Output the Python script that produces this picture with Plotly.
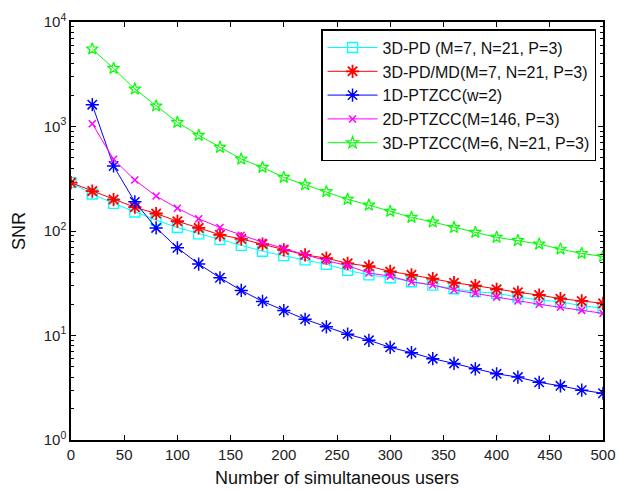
import plotly.graph_objects as go

x_full = list(range(0, 501, 20))
x_from20 = list(range(20, 501, 20))

pd_3d = [290, 226, 184, 152, 127, 108, 94, 83, 73, 64, 58, 53, 48, 42, 38, 35.7, 32.7, 30.4, 28, 26.3, 25.3, 23.3, 22, 20.9, 19.3, 18.2]
pdmd_3d = [290, 241, 200, 169, 147, 124, 107, 92, 84, 75, 66, 59, 55, 49, 46, 41, 38, 35, 32, 30, 27.7, 25.9, 24.4, 22.5, 21.4, 20.3]
ptzcc_1d = [1617, 419, 190, 107, 69, 48.3, 35.7, 27, 21.2, 17.3, 14.3, 12.1, 10.3, 9.0, 7.7, 6.85, 6.0, 5.4, 4.8, 4.3, 4.0, 3.56, 3.3, 3.0, 2.8]
ptzcc_2d = [1064, 485, 307, 216, 165, 131, 108, 91, 78, 68, 59, 52, 46.6, 39.6, 37, 32.5, 30.4, 27.2, 25.3, 23.3, 21.4, 19.9, 18.6, 17.4, 16.3]
ptzcc_3d = [5520, 3600, 2285, 1570, 1096, 824, 632, 488, 406, 326, 277, 238, 201, 177, 154, 135, 122, 108, 97, 87, 81, 75, 67, 61, 57]

names = ["3D-PD (M=7, N=21, P=3)", "3D-PD/MD(M=7, N=21, P=3)", "1D-PTZCC(w=2)",
         "2D-PTZCC(M=146, P=3)", "3D-PTZCC(M=6, N=21, P=3)"]

x_ticks = list(range(0, 501, 50))
y_tickvals = [1, 10, 100, 1000, 10000]
y_ticktext = ["10<sup>0</sup>", "10<sup>1</sup>", "10<sup>2</sup>", "10<sup>3</sup>", "10<sup>4</sup>"]
y_minor = [m * 10 ** d for d in range(4) for m in range(2, 10)]

FONT = "Liberation Sans, Arial"

fig = go.Figure()
series = [
    (x_full, pd_3d, "#00FFFF", "square-open", 10, 1.3),
    (x_full, pdmd_3d, "#FF0000", "asterisk-open", 11, 1.8),
    (x_from20, ptzcc_1d, "#0000FF", "asterisk-open", 11, 1.5),
    (x_from20, ptzcc_2d, "#FF00FF", "x-thin-open", 7, 1.5),
    (x_from20, ptzcc_3d, "#00FF00", "star-open", 9, 1.2),
]
for (xs, ys, col, sym, sz, lw), nm in zip(series, names):
    fig.add_trace(go.Scatter(
        x=xs, y=ys, name=nm, mode="lines+markers",
        line=dict(color=col, width=1),
        marker=dict(symbol=sym, size=sz, color=col, line=dict(color=col, width=lw)),
    ))

axis_common = dict(showline=True, linecolor="black", linewidth=1.5, mirror="allticks",
                   ticks="inside", tickcolor="black", ticklen=5, tickwidth=1, showgrid=False, zeroline=False,
                   automargin=False,
                   tickfont=dict(family=FONT, size=15, color="#222"))

fig.update_xaxes(range=[0, 500], tickvals=x_ticks,
                 title=dict(text="Number of simultaneous users", font=dict(family=FONT, size=18, color="#111"), standoff=10),
                 **axis_common)
fig.update_yaxes(type="log", range=[0, 4], tickvals=y_tickvals, ticktext=y_ticktext,
                 title=dict(text="SNR", font=dict(family=FONT, size=18, color="#111"), standoff=13),
                 minor=dict(tickvals=y_minor, ticks="inside", ticklen=3, tickcolor="black", tickwidth=1, showgrid=False),
                 **axis_common)

fig.update_layout(
    width=619, height=491,
    margin=dict(l=71, r=16, t=22, b=51),
    paper_bgcolor="white", plot_bgcolor="white",
    font=dict(family=FONT, color="#111"),
    legend=dict(x=0.47, y=0.983, xanchor="left", yanchor="top",
                bgcolor="white", bordercolor="black", borderwidth=1.5,
                font=dict(size=16, family=FONT, color="#111"),
                tracegroupgap=0, itemwidth=50),
)

fig.write_html("out.html", config={"displayModeBar": False},
               post_script="document.body.style.margin='0';document.body.style.overflow='hidden';")
